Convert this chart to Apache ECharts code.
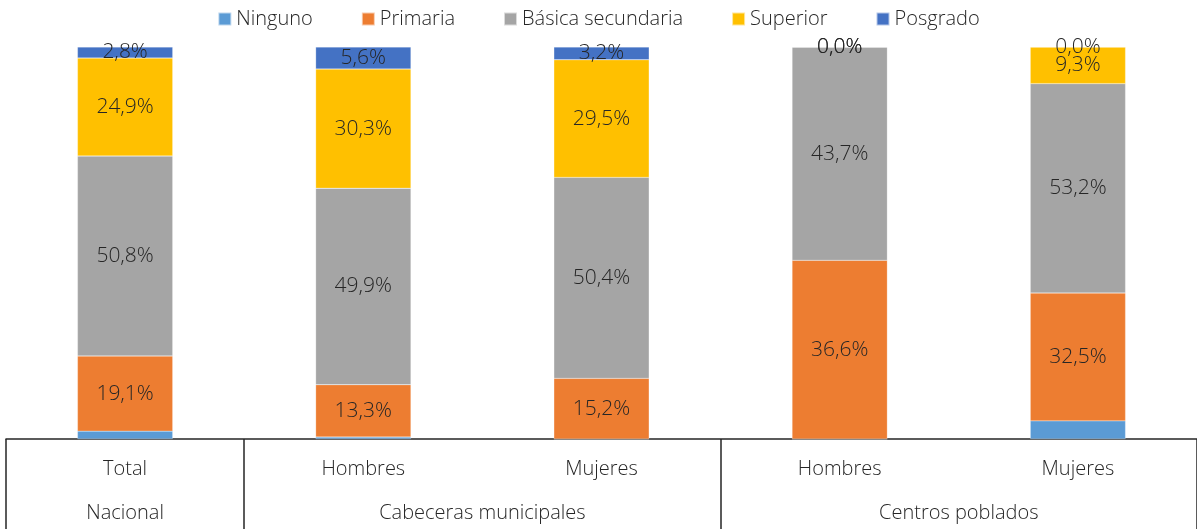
<!DOCTYPE html>
<html>
<head>
<meta charset="utf-8">
<script src="https://cdn.jsdelivr.net/npm/echarts@6/dist/echarts.min.js"></script>
<style>
html,body{margin:0;padding:0;background:#fff;}
#c{width:1197px;height:529px;}
</style>
</head>
<body>
<div id="c"></div>
<script>
const categories = ['Total', 'Hombres', 'Mujeres', 'Hombres', 'Mujeres'];
const groups = ['Nacional', 'Cabeceras municipales', 'Centros poblados'];
const seriesNames = ['Ninguno', 'Primaria', 'Básica secundaria', 'Superior', 'Posgrado'];
const ninguno = [2.0, 0.5, 0.0, 0.0, 4.6];
const primaria = [19.1, 13.3, 15.2, 36.6, 32.5];
const basica = [50.8, 49.9, 50.4, 43.7, 53.2];
const superior = [24.9, 30.3, 29.5, 0.0, 9.3];
const posgrado = [2.8, 5.6, 3.2, 0.0, 0.0];
const colors = ['#5B9BD5', '#ED7D31', '#A5A5A5', '#FFC000', '#4472C4'];

const raw = [ninguno, primaria, basica, superior, posgrado];
const totals = categories.map((_, i) => raw.reduce((s, arr) => s + arr[i], 0));
const FONT = '"Open Sans"';
const TXT = '#262626';
const fmt = v => v.toFixed(1).replace('.', ',') + '%';

const series = raw.map((arr, si) => ({
  name: seriesNames[si],
  type: 'bar',
  stack: 'total',
  barWidth: '40%',
  xAxisIndex: 0,
  itemStyle: { color: colors[si], borderColor: 'rgba(255,255,255,0.6)', borderWidth: 0.4 },
  label: {
    show: si > 0,
    position: 'inside',
    fontFamily: FONT,
    fontWeight: 300,
    fontSize: 21,
    color: TXT,
    formatter: p => fmt(arr[p.dataIndex])
  },
  data: arr.map((v, i) => v / totals[i] * 100)
}));

const chart = echarts.init(document.getElementById('c'));
chart.setOption({
  animation: false,
  color: colors,
  legend: {
    top: 4,
    left: 'center',
    icon: 'rect',
    itemWidth: 13,
    itemHeight: 13,
    itemGap: 48,
    textStyle: { fontFamily: FONT, fontWeight: 300, fontSize: 20, color: TXT },
    data: seriesNames
  },
  grid: { left: 6, right: -1, top: 47, bottom: 90 },
  xAxis: [
    {
      type: 'category',
      data: categories,
      position: 'bottom',
      axisLine: { show: true, lineStyle: { color: '#262626', width: 1.5 } },
      axisTick: { show: false },
      axisLabel: { margin: 20, fontFamily: FONT, fontWeight: 300, fontSize: 20, color: TXT }
    },
    {
      type: 'value',
      min: 0,
      max: 5,
      position: 'bottom',
      axisLine: { show: false },
      splitLine: { show: false },
      axisTick: { show: true, customValues: [0, 1, 3, 5], length: 90, lineStyle: { color: '#262626', width: 1.5 } },
      axisLabel: {
        customValues: [0.5, 2, 4],
        margin: 64,
        fontFamily: FONT, fontWeight: 300, fontSize: 20, color: TXT,
        formatter: v => v === 0.5 ? groups[0] : (v === 2 ? groups[1] : groups[2])
      }
    }
  ],
  yAxis: { type: 'value', min: 0, max: 100, show: false },
  series: series
});
</script>
</body>
</html>
